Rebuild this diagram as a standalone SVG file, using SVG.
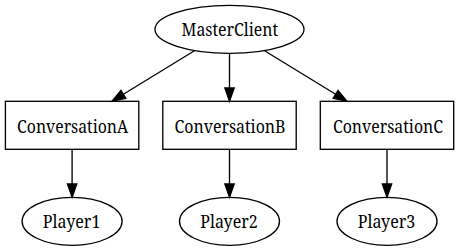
<svg xmlns="http://www.w3.org/2000/svg" width="459" height="251" viewBox="0 0 459 251">
  <style>
    .shape { fill: none; stroke: #000; stroke-width: 1.33; }
    .edge { fill: none; stroke: #000; stroke-width: 1.33; }
    .label { font-family: 'Noto Serif', 'DejaVu Serif', serif; font-size: 17.5px; fill: #000; text-anchor: middle; }
  </style>
  <defs>
    <marker id="arrow" markerUnits="userSpaceOnUse" markerWidth="16" markerHeight="12" refX="0" refY="6" orient="auto" overflow="visible">
      <path d="M0,1.33 L13.33,6 L0,10.67 Z" fill="#000" stroke="#000" stroke-width="1.33" stroke-linejoin="miter"/>
    </marker>
  </defs>
  <rect width="459" height="251" fill="#fff"/>

  <g id="edges">
    <line class="edge" x1="194.8" y1="50.5" x2="123.4" y2="94.3" marker-end="url(#arrow)"/>
    <line class="edge" x1="229.5" y1="53.3" x2="229.5" y2="88" marker-end="url(#arrow)"/>
    <line class="edge" x1="264.2" y1="50.5" x2="335.6" y2="94.3" marker-end="url(#arrow)"/>
    <line class="edge" x1="72.1" y1="149.3" x2="72.1" y2="184" marker-end="url(#arrow)"/>
    <line class="edge" x1="229.5" y1="149.3" x2="229.5" y2="184" marker-end="url(#arrow)"/>
    <line class="edge" x1="387" y1="149.3" x2="387" y2="184" marker-end="url(#arrow)"/>
  </g>

  <g id="MasterClient">
    <ellipse class="shape" cx="229.5" cy="29.3" rx="74.5" ry="24"/>
    <text class="label" x="229.8" y="36.3" textLength="96.5" lengthAdjust="spacingAndGlyphs">MasterClient</text>
  </g>

  <g id="ConversationA">
    <rect class="shape" x="5.4" y="101.3" width="133.4" height="48"/>
    <text class="label" x="72.6" y="132.8" textLength="111" lengthAdjust="spacingAndGlyphs">ConversationA</text>
  </g>
  <g id="ConversationB">
    <rect class="shape" x="162.8" y="101.3" width="133.4" height="48"/>
    <text class="label" x="230" y="132.8" textLength="111" lengthAdjust="spacingAndGlyphs">ConversationB</text>
  </g>
  <g id="ConversationC">
    <rect class="shape" x="320.3" y="101.3" width="133.4" height="48"/>
    <text class="label" x="388" y="132.8" textLength="110" lengthAdjust="spacingAndGlyphs">ConversationC</text>
  </g>

  <g id="Player1">
    <ellipse class="shape" cx="72.1" cy="221.3" rx="50" ry="24"/>
    <text class="label" x="71.6" y="227.6" textLength="57.5" lengthAdjust="spacingAndGlyphs">Player1</text>
  </g>
  <g id="Player2">
    <ellipse class="shape" cx="229.5" cy="221.3" rx="50" ry="24"/>
    <text class="label" x="229" y="227.6" textLength="57.5" lengthAdjust="spacingAndGlyphs">Player2</text>
  </g>
  <g id="Player3">
    <ellipse class="shape" cx="387" cy="221.3" rx="50" ry="24"/>
    <text class="label" x="386.5" y="227.6" textLength="57.5" lengthAdjust="spacingAndGlyphs">Player3</text>
  </g>
</svg>
